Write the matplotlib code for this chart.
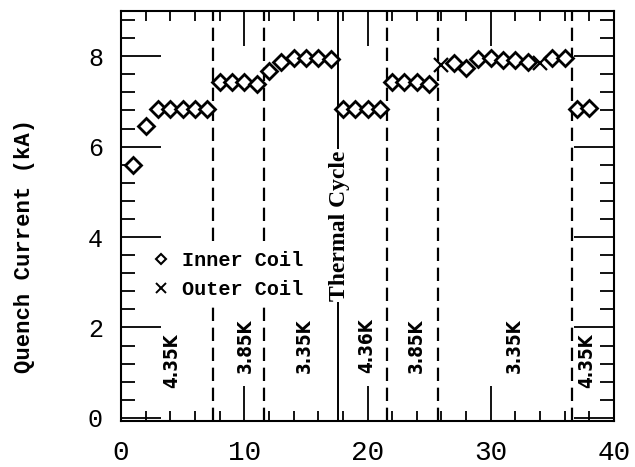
import matplotlib
matplotlib.use("Agg")
import matplotlib.pyplot as plt
from matplotlib.ticker import MultipleLocator
from matplotlib.lines import Line2D

# ---- data ----
inner_x = [1, 2, 3, 4, 5, 6, 7, 8, 9, 10, 11, 12, 13, 14, 15, 16, 17,
           18, 19, 20, 21, 22, 23, 24, 25, 27, 28, 29, 30, 31, 32, 33, 35, 36, 37, 38]
inner_y = [5.6, 6.45, 6.83, 6.83, 6.83, 6.83, 6.83, 7.43, 7.43, 7.42, 7.38,
           7.68, 7.88, 7.96, 7.96, 7.95, 7.94,
           6.84, 6.84, 6.84, 6.84, 7.42, 7.42, 7.42, 7.38,
           7.84, 7.75, 7.93, 7.96, 7.92, 7.92, 7.87, 7.95, 7.96, 6.84, 6.86]
outer_x = [26, 34]
outer_y = [7.8, 7.86]

dashed_x = [7.5, 11.6, 21.6, 25.7, 36.6]
solid_x = [17.6]

temp_labels = ["4.35K", "3.85K", "3.35K", "4.36K", "3.85K", "3.35K", "4.35K"]
temp_x = [4.1, 10.1, 14.9, 19.95, 24.0, 31.9, 37.8]
temp_y = [1.27, 1.6, 1.6, 1.6, 1.6, 1.6, 1.27]

xticks = [0, 10, 20, 30, 40]
yticks = [0, 2, 4, 6, 8]

fig = plt.figure(figsize=(6.35, 4.67), dpi=100)
ax = fig.add_axes([121/635, 46/467, 493/635, 410/467])

for x in dashed_x:
    ax.axvline(x, color='black', lw=1.6, ls=(0, (6, 3)), zorder=1)
for x in solid_x:
    ax.axvline(x, color='black', lw=1.4, zorder=1)

ax.plot(inner_x, inner_y, ls='none', marker='D', ms=8.3, mfc='white',
        mec='black', mew=2.0, zorder=3)
ax.plot(outer_x, outer_y, ls='none', marker='x', ms=10, mec='black',
        mew=1.6, zorder=4)

ax.set_xlim(0, 40)
ax.set_ylim(-0.07, 9)
ax.set_xticks(xticks)
ax.set_yticks(yticks)
ax.xaxis.set_minor_locator(MultipleLocator(2))
ax.yaxis.set_minor_locator(MultipleLocator(0.4))
ax.tick_params(axis='x', which='major', direction='in', length=25, width=1.3,
               top=True, pad=14, labelsize=20)
ax.tick_params(axis='x', which='minor', direction='in', length=7, width=1.3, top=True)
ax.tick_params(axis='y', which='major', direction='in', length=29, width=1.3,
               right=True, pad=13, labelsize=18)
ax.tick_params(axis='y', which='minor', direction='in', length=10, width=1.3, right=True)
for lab in ax.get_xticklabels() + ax.get_yticklabels():
    lab.set_fontfamily('Liberation Mono')
for s in ax.spines.values():
    s.set_linewidth(1.5)

fig.text(25/635, 1 - 246/467, "Quench Current (kA)", rotation=90,
         ha='center', va='center', fontsize=16, fontweight='bold',
         fontfamily='Liberation Mono')

for t, x, y in zip(temp_labels, temp_x, temp_y):
    ax.text(x, y, t, rotation=90, ha='center', va='center', fontsize=13.5,
            fontweight='bold', fontfamily='DejaVu Sans', fontstretch='condensed',
            zorder=5)

ax.text(17.7, 4.25, "Thermal Cycle", rotation=90, ha='center', va='center',
        fontsize=17, fontweight='bold', fontfamily='Liberation Serif',
        bbox=dict(facecolor='white', edgecolor='none', pad=1), zorder=5)

handles = [Line2D([], [], ls='none', marker='D', ms=5.5, mfc='white', mec='black', mew=1.5),
           Line2D([], [], ls='none', marker='x', ms=7, mec='black', mew=1.4)]
leg = ax.legend(handles, ["Inner Coil", "Outer Coil"], loc='upper left',
                bbox_to_anchor=(0.055, 0.43), frameon=True, facecolor='white',
                edgecolor='none', framealpha=1, fancybox=False,
                handlelength=0.7, handletextpad=0.7, labelspacing=0.5,
                borderpad=0.3, borderaxespad=0,
                prop=dict(family='Liberation Mono', weight='bold', size=14.5))
leg.set_zorder(6)

fig.savefig("out.png", dpi=100)
